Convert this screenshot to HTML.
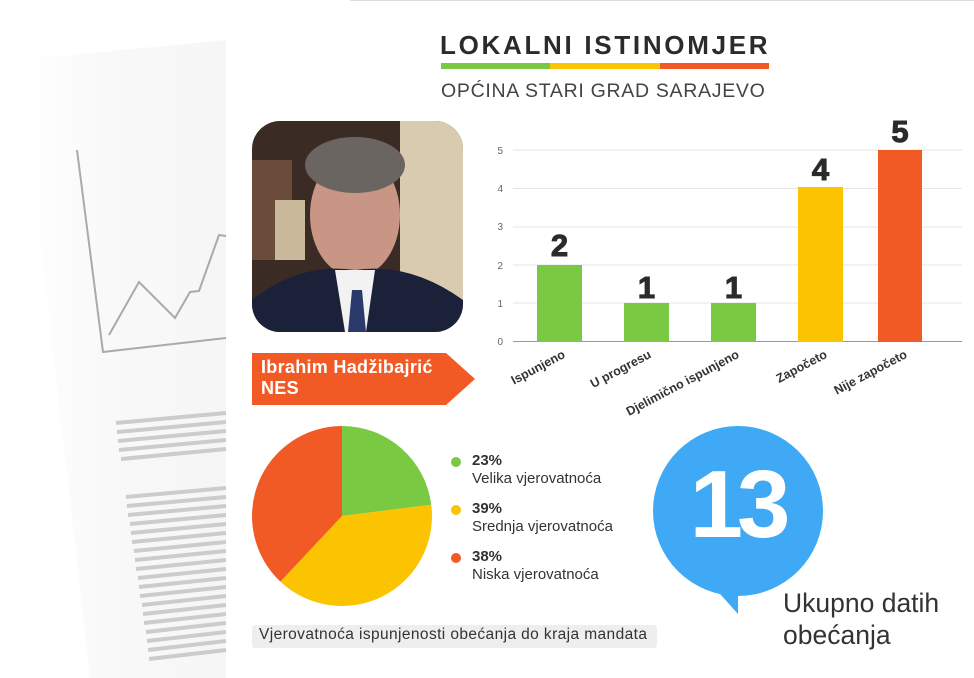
<!DOCTYPE html>
<html><head><meta charset="utf-8"><style>
body{margin:0;width:974px;height:678px;overflow:hidden;background:#fff;font-family:"Liberation Sans",sans-serif;position:relative}
.a{position:absolute}
</style></head><body>
<svg class="a" style="left:0;top:0" width="974" height="678">
  <defs><linearGradient id="pg" x1="0" x2="1"><stop offset="0" stop-color="#fff"/><stop offset="0.4" stop-color="#f9f9f9"/><stop offset="1" stop-color="#f6f6f6"/></linearGradient>
  </defs>
  <polygon points="20,60 226,40 226,678 90,678" fill="url(#pg)"/>
  <line x1="350" y1="0" x2="974" y2="0" stroke="#ddd" stroke-width="2"/>
  <g stroke="#aaa" fill="none" stroke-width="2">
    <polyline points="77,150 103,352 226,338"/>
    <polyline points="109,335 139,282 175,318 190,292 199,291 219,235 226,236"/>
  </g>
  <g stroke="#ccc" stroke-width="4">
    <line x1="116" y1="423" x2="226" y2="413"/><line x1="117" y1="432" x2="226" y2="422"/><line x1="118" y1="441" x2="226" y2="431"/><line x1="119" y1="450" x2="226" y2="440"/><line x1="121" y1="459" x2="226" y2="449"/>
    <line x1="126" y1="497" x2="226" y2="488"/><line x1="127" y1="506" x2="226" y2="497"/><line x1="128" y1="515" x2="226" y2="506"/><line x1="130" y1="524" x2="226" y2="515"/><line x1="131" y1="533" x2="226" y2="524"/><line x1="132" y1="542" x2="226" y2="533"/><line x1="134" y1="551" x2="226" y2="542"/><line x1="135" y1="560" x2="226" y2="551"/><line x1="136" y1="569" x2="226" y2="560"/><line x1="138" y1="578" x2="226" y2="569"/><line x1="139" y1="587" x2="226" y2="578"/><line x1="140" y1="596" x2="226" y2="587"/><line x1="142" y1="605" x2="226" y2="596"/><line x1="143" y1="614" x2="226" y2="605"/><line x1="144" y1="623" x2="226" y2="614"/><line x1="146" y1="632" x2="226" y2="623"/><line x1="147" y1="641" x2="226" y2="632"/><line x1="148" y1="650" x2="226" y2="641"/><line x1="149" y1="659" x2="226" y2="650"/>
  </g>
  <rect x="441" y="63" width="109" height="6" fill="#7ac943"/><rect x="550" y="63" width="110" height="6" fill="#fcc300"/><rect x="660" y="63" width="109" height="6" fill="#f15a24"/>
  <clipPath id="cp"><rect x="252" y="121" width="211" height="211" rx="28"/></clipPath>
  <g clip-path="url(#cp)">
    <rect x="252" y="121" width="211" height="211" fill="#3a2c24"/>
    <rect x="400" y="121" width="63" height="211" fill="#d9cbb0"/>
    <rect x="252" y="160" width="40" height="100" fill="#6b4b3a"/>
    <rect x="275" y="200" width="30" height="60" fill="#c9b89a"/>
    <ellipse cx="355" cy="215" rx="45" ry="62" fill="#c99585"/>
    <ellipse cx="355" cy="165" rx="50" ry="28" fill="#6a6560"/>
    <path d="M252,300 Q300,262 355,270 Q410,262 463,300 L463,332 L252,332Z" fill="#1a2138"/>
    <polygon points="335,270 375,270 366,332 345,332" fill="#f2f2f2"/>
    <polygon points="352,290 362,290 366,332 348,332" fill="#2a3a6a"/>
  </g>
  <polygon points="252,353 446,353 475,379 446,405 252,405" fill="#f15a24"/>
  <g stroke="#e6e6e6" stroke-width="1">
    <line x1="513" y1="150" x2="962" y2="150"/><line x1="513" y1="188.5" x2="962" y2="188.5"/><line x1="513" y1="227" x2="962" y2="227"/><line x1="513" y1="265" x2="962" y2="265"/><line x1="513" y1="303" x2="962" y2="303"/>
  </g>
  <line x1="513" y1="341.5" x2="962" y2="341.5" stroke="#999"/>
  <g font-size="10" fill="#666" text-anchor="end"><text x="503" y="345">0</text><text x="503" y="307">1</text><text x="503" y="269">2</text><text x="503" y="230">3</text><text x="503" y="192">4</text><text x="503" y="154">5</text></g>
  <rect x="537" y="265" width="45" height="77" fill="#7ac943"/>
  <rect x="624" y="303" width="45" height="39" fill="#7ac943"/>
  <rect x="711" y="303" width="45" height="39" fill="#7ac943"/>
  <rect x="798" y="187" width="45" height="155" fill="#fcc300"/>
  <rect x="878" y="150" width="44" height="192" fill="#f15a24"/>
  <g font-size="31" font-weight="bold" fill="#2b2b2b" text-anchor="middle" stroke="#2b2b2b" stroke-width="1"><text x="559.5" y="256">2</text><text x="646.5" y="298">1</text><text x="733.5" y="298">1</text><text x="820.5" y="180">4</text><text x="900" y="142">5</text></g>
  <g font-size="12.5" font-weight="bold" fill="#333" text-anchor="end">
    <text transform="translate(566,357) rotate(-28)">Ispunjeno</text>
    <text transform="translate(652,357) rotate(-28)">U progresu</text>
    <text transform="translate(740,357) rotate(-28)">Djelimično ispunjeno</text>
    <text transform="translate(828,357) rotate(-28)">Započeto</text>
    <text transform="translate(908,357) rotate(-28)">Nije započeto</text>
  </g>
  <path d="M342,516 L342,426 A90,90 0 0 1 431.3,504.7Z" fill="#7ac943"/>
  <path d="M342,516 L431.3,504.7 A90,90 0 0 1 280.4,581.6Z" fill="#fcc300"/>
  <path d="M342,516 L280.4,581.6 A90,90 0 0 1 342,426Z" fill="#f15a24"/>
  <circle cx="456" cy="462" r="5" fill="#7ac943"/><circle cx="456" cy="510" r="5" fill="#fcc300"/><circle cx="456" cy="558" r="5" fill="#f15a24"/>
  <rect x="252" y="625" width="405" height="23" rx="3" fill="#eeeeee"/>
  <circle cx="738" cy="511" r="85" fill="#3fa9f5"/>
  <polygon points="712,585 738,614 738,580" fill="#3fa9f5"/>
</svg>
<div class="a" style="left:440px;top:30px;font-size:26px;font-weight:bold;color:#2b2b2b;letter-spacing:2.7px">LOKALNI ISTINOMJER</div>
<div class="a" style="left:441px;top:80px;font-size:19.5px;color:#444;letter-spacing:0.7px">OPĆINA STARI GRAD SARAJEVO</div>
<div class="a" style="left:261px;top:357px;font-size:18px;font-weight:bold;color:#fff;line-height:21px;letter-spacing:0.3px">Ibrahim Hadžibajrić<br>NES</div>
<div class="a" style="left:472px;top:452px;font-size:15px;color:#333;line-height:18px"><b>23%</b><br>Velika vjerovatnoća</div>
<div class="a" style="left:472px;top:500px;font-size:15px;color:#333;line-height:18px"><b>39%</b><br>Srednja vjerovatnoća</div>
<div class="a" style="left:472px;top:548px;font-size:15px;color:#333;line-height:18px"><b>38%</b><br>Niska vjerovatnoća</div>
<div class="a" style="left:259px;top:626px;font-size:15.5px;color:#333;letter-spacing:0.4px">Vjerovatnoća ispunjenosti obećanja do kraja mandata</div>
<div class="a" style="left:672px;top:450px;width:130px;text-align:center;font-size:96px;font-weight:bold;color:#fff;letter-spacing:-6px;line-height:110px">13</div>
<div class="a" style="left:783px;top:587px;font-size:26.5px;color:#333;line-height:32px">Ukupno datih<br>obećanja</div>
</body></html>
